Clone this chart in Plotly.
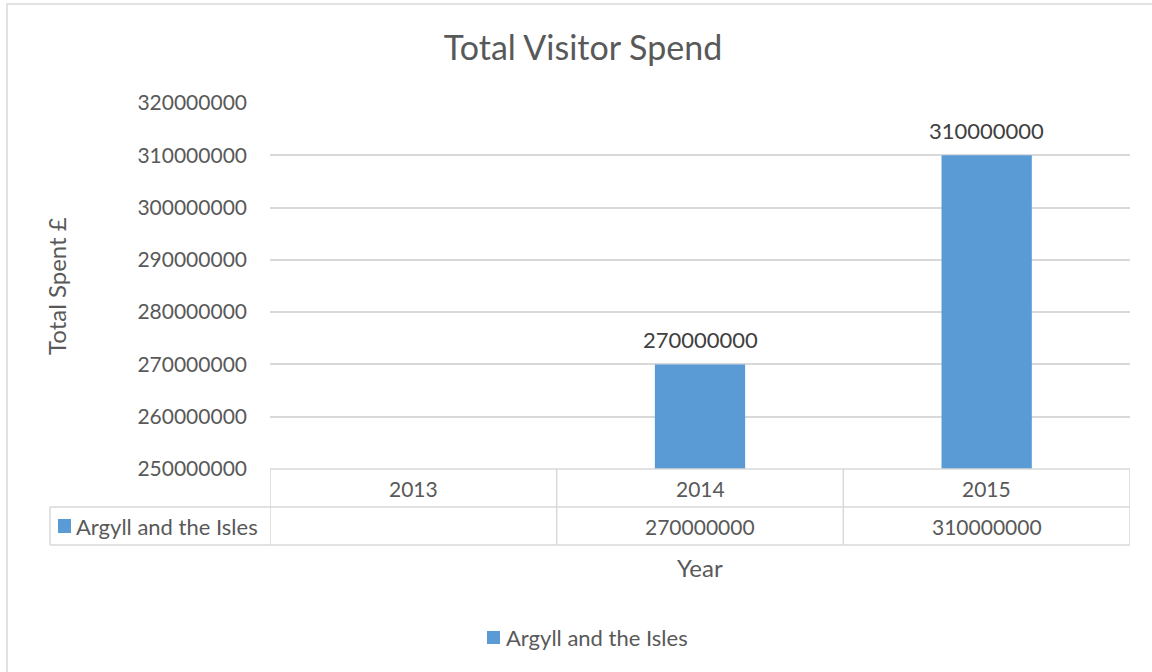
import plotly.graph_objects as go

# Chart data
years = ["2013", "2014", "2015"]
spend = [None, 270000000, 310000000]
series_name = "Argyll and the Isles"
y_ticks = [250000000, 260000000, 270000000, 280000000, 290000000, 300000000, 310000000, 320000000]

BAR = "#5B9BD5"
GRID = "#D9D9D9"
TXT = "#595959"
LBL = "#404040"
FONT = "Lato, 'Open Sans', sans-serif"

W, H = 1152, 672
L, R, T, B = 270, 22, 103, 203
PH = H - T - B


def py(pix):
    """Convert a pixel row (from top) into paper y."""
    return (H - B - pix) / PH


def px(pix):
    """Convert a pixel column into paper x."""
    return (pix - L) / (W - L - R)


fig = go.Figure()
fig.add_trace(go.Bar(
    x=years, y=spend, name=series_name,
    marker=dict(color=BAR, line=dict(width=0)),
    width=0.315,
    showlegend=False,
    hoverinfo="x+y",
))

shapes = []
annotations = []

# value labels above the bars
for i, v in enumerate(spend):
    if v is None:
        continue
    annotations.append(dict(x=i, y=v, xref="x", yref="y", text=f"{v:d}",
                            showarrow=False, yanchor="middle", yshift=25,
                            font=dict(family=FONT, size=22, color=LBL)))

# outer chart border
shapes.append(dict(type="rect", xref="paper", yref="paper",
                   x0=px(7), x1=px(1170), y0=py(690), y1=py(4),
                   line=dict(color=GRID, width=1.5), fillcolor="rgba(0,0,0,0)", layer="below"))

# data table below the axis
row1, row2, row3 = 469, 507, 545
tbl_left = 50
line_style = dict(color=GRID, width=1.5)
shapes.append(dict(type="line", xref="paper", yref="paper", x0=0, x1=1,
                   y0=py(row1), y1=py(row1), line=line_style))
for r in (row2, row3):
    shapes.append(dict(type="line", xref="paper", yref="paper", x0=px(tbl_left), x1=1,
                       y0=py(r), y1=py(r), line=line_style))
n = len(years)
for i in range(n + 1):
    shapes.append(dict(type="line", xref="x", yref="paper", x0=i - 0.5, x1=i - 0.5,
                       y0=py(row3), y1=py(row1), line=line_style))
shapes.append(dict(type="line", xref="paper", yref="paper", x0=px(tbl_left), x1=px(tbl_left),
                   y0=py(row3), y1=py(row2), line=line_style))

# table text: year headers and values
for i, (yr, v) in enumerate(zip(years, spend)):
    annotations.append(dict(x=i, y=py((row1 + row2) / 2), xref="x", yref="paper",
                            yanchor="middle", text=yr, showarrow=False,
                            font=dict(family=FONT, size=21, color=TXT)))
    if v is not None:
        annotations.append(dict(x=i, y=py((row2 + row3) / 2), xref="x", yref="paper",
                                yanchor="middle", text=f"{v:d}", showarrow=False,
                                font=dict(family=FONT, size=21, color=TXT)))

# series key in table
shapes.append(dict(type="rect", xref="paper", yref="paper",
                   x0=px(58), x1=px(71), y0=py(533), y1=py(519),
                   fillcolor=BAR, line=dict(width=0)))
annotations.append(dict(x=px(74), y=py((row2 + row3) / 2), xref="paper", yref="paper",
                        xanchor="left", yanchor="middle", text=series_name, showarrow=False,
                        font=dict(family=FONT, size=22, color=TXT)))

# axis titles
annotations.append(dict(x=0.5, y=py(567), xref="paper", yref="paper", text="Year",
                        yanchor="middle", showarrow=False,
                        font=dict(family=FONT, size=24, color=TXT)))
annotations.append(dict(x=px(56), y=py(286), xref="paper", yref="paper", text="Total Spent £",
                        textangle=-90, xanchor="center", yanchor="middle", showarrow=False,
                        font=dict(family=FONT, size=24, color=TXT)))

# legend
shapes.append(dict(type="rect", xref="paper", yref="paper",
                   x0=px(487), x1=px(500), y0=py(644), y1=py(631),
                   fillcolor=BAR, line=dict(width=0)))
annotations.append(dict(x=px(504), y=py(637), xref="paper", yref="paper",
                        xanchor="left", yanchor="middle", text=series_name, showarrow=False,
                        font=dict(family=FONT, size=22, color=TXT)))

fig.update_layout(
    width=W, height=H,
    margin=dict(l=L, r=R, t=T, b=B, pad=0),
    paper_bgcolor="white", plot_bgcolor="white",
    title=dict(text="Total Visitor Spend", xref="container", x=583 / W, xanchor="center",
               yref="container", y=1 - 48 / H, yanchor="middle",
               font=dict(family=FONT, size=34, color=TXT)),
    xaxis=dict(type="category", showticklabels=False, showgrid=False,
               showline=False, zeroline=False, range=[-0.5, n - 0.5]),
    yaxis=dict(range=[y_ticks[0], y_ticks[-1]], tickvals=y_ticks,
               ticktext=[f"{t:d}" for t in y_ticks],
               showgrid=True, gridcolor=GRID, gridwidth=1.5, zeroline=False,
               showline=False, ticks="", ticklen=0, ticklabelstandoff=22,
               tickfont=dict(family=FONT, size=21, color=TXT)),
    showlegend=False,
    shapes=shapes,
    annotations=annotations,
)

fig.write_html("out.html")
